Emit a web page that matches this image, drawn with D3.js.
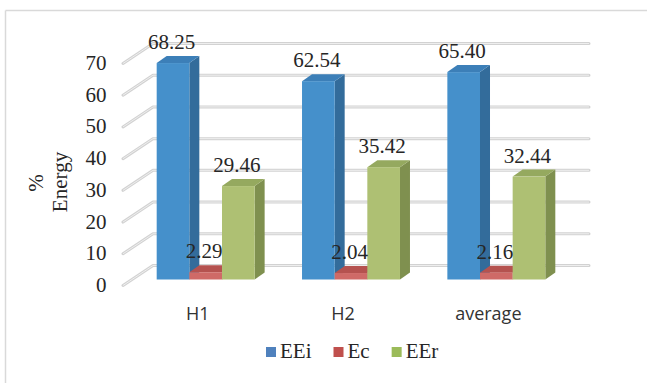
<!DOCTYPE html>
<html>
<head>
<meta charset="utf-8">
<script src="https://cdn.jsdelivr.net/npm/d3@7"></script>
<style>
  html, body { margin: 0; padding: 0; background: #fff; }
  svg { display: block; }
</style>
</head>
<body>
<svg id="chart" width="647" height="383"></svg>
<script>
const categories = ["H1", "H2", "average"];
const seriesNames = ["EEi", "Ec", "EEr"];
const EEi = [68.25, 62.54, 65.40];
const Ec = [2.29, 2.04, 2.16];
const EEr = [29.46, 35.42, 32.44];
const seriesValues = [EEi, Ec, EEr];
const yTicks = [0, 10, 20, 30, 40, 50, 60, 70];

const faceColors = [
  { front: "#4590cb", side: "#336c9b", top: "#3c7fb8", legend: "#4f81bd" },
  { front: "#cf6a67", side: "#a44744", top: "#b5524f", legend: "#c0504d" },
  { front: "#aec073", side: "#7f904f", top: "#95a95f", legend: "#9bbb59" }
];

const svg = d3.select("#chart");

// chart area border (top & left visible)
svg.append("line").attr("x1", 5.5).attr("y1", 10.5).attr("x2", 647).attr("y2", 10.5)
  .attr("stroke", "#d9d9d9").attr("stroke-width", 1.5);
svg.append("line").attr("x1", 5.5).attr("y1", 10.5).attr("x2", 5.5).attr("y2", 383)
  .attr("stroke", "#d9d9d9").attr("stroke-width", 1.5);

// scales
const h = d3.scaleLinear().domain([0, 70]).range([0, 222]);
const depthDX = 30, depthDY = -20;           // full floor depth
const frontY0 = 285.5;                       // floor front edge y at value 0
const frontX0 = 123, backX0 = 153, backX1 = 589;

// back wall gridlines + left-side diagonals
const grid = svg.append("g");
yTicks.forEach(v => {
  const yb = frontY0 + depthDY - h(v);
  const yf = frontY0 - h(v);
  const path = `M${frontX0},${yf} L${backX0},${yb} L${backX1},${yb}`;
  grid.append("path").attr("d", path).attr("fill", "none")
    .attr("stroke", "#d2d2d2").attr("stroke-width", 3).attr("stroke-linejoin", "round").attr("stroke-linecap", "round");
  grid.append("path").attr("d", path).attr("fill", "none")
    .attr("stroke", "#eeeeee").attr("stroke-width", 1);
});

// y tick labels
const yAxisG = svg.append("g");
yTicks.forEach(v => {
  yAxisG.append("text")
    .attr("x", 106.5).attr("y", frontY0 - h(v) + 6.5)
    .attr("text-anchor", "end")
    .attr("font-family", "Liberation Serif, Times New Roman, serif")
    .attr("font-size", 21).attr("fill", "#262626")
    .text(v);
});

// y axis title
const title = svg.append("g").attr("font-family", "Liberation Serif, Times New Roman, serif")
  .attr("font-size", 21).attr("fill", "#262626");
title.append("text").attr("transform", "translate(43,183) rotate(-90)")
  .attr("text-anchor", "middle").text("%");
title.append("text").attr("transform", "translate(67,182) rotate(-90)")
  .attr("text-anchor", "middle").text("Energy");

// bars
const barBottom = 279.5;          // front face bottom y
const bdx = 10, bdy = -7;        // bar depth offset
const x0 = d3.scaleBand().domain(categories).range([133, 569]).paddingInner(0.326).paddingOuter(0.163);
const x1 = d3.scaleBand().domain(seriesNames).range([0, x0.bandwidth()]);

const barsG = svg.append("g");
categories.forEach((c, ci) => {
  seriesNames.forEach((s, si) => {
    const v = seriesValues[si][ci];
    const xl = x0(c) + x1(s), xr = xl + x1.bandwidth();
    const yt = barBottom - h(v), yb = barBottom;
    const col = faceColors[si];
    // side
    barsG.append("path").attr("d",
      `M${xr},${yb} L${xr + bdx},${yb + bdy} L${xr + bdx},${yt + bdy} L${xr},${yt} Z`)
      .attr("fill", col.side);
    // top
    barsG.append("path").attr("d",
      `M${xl},${yt} L${xl + bdx},${yt + bdy} L${xr + bdx},${yt + bdy} L${xr},${yt} Z`)
      .attr("fill", col.top);
    // front
    barsG.append("rect").attr("x", xl).attr("y", yt).attr("width", xr - xl).attr("height", yb - yt)
      .attr("fill", col.front);
  });
});

// value labels
const labelsG = svg.append("g").attr("font-family", "Liberation Serif, Times New Roman, serif")
  .attr("font-size", 21).attr("fill", "#262626").attr("text-anchor", "middle");
categories.forEach((c, ci) => {
  seriesNames.forEach((s, si) => {
    const v = seriesValues[si][ci];
    const xc = x0(c) + x1(s) + x1.bandwidth() / 2 - 1.5;
    labelsG.append("text").attr("x", xc).attr("y", barBottom - h(v) - 14)
      .text(v.toFixed(2));
  });
});

// category labels
const catG = svg.append("g").attr("font-family", "Open Sans, sans-serif")
  .attr("font-size", 18).attr("fill", "#333").attr("text-anchor", "middle");
categories.forEach(c => {
  catG.append("text").attr("x", x0(c) + x0.bandwidth() / 2 - 8).attr("y", 320).text(c);
});

// legend
const legend = svg.append("g").attr("font-family", "Liberation Serif, Times New Roman, serif")
  .attr("font-size", 21).attr("fill", "#262626");
let lx = 266;
seriesNames.forEach((s, si) => {
  legend.append("rect").attr("x", lx).attr("y", 347).attr("width", 10).attr("height", 10)
    .attr("fill", faceColors[si].legend);
  const t = legend.append("text").attr("x", lx + 14).attr("y", 358).text(s);
  lx += 14 + t.node().getComputedTextLength() + 22;
});
</script>
</body>
</html>
